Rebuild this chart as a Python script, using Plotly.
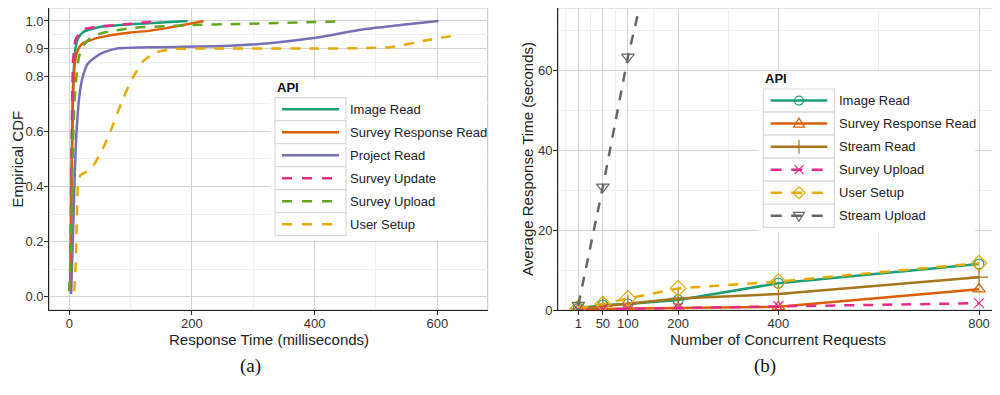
import plotly.graph_objects as go

W, H = 1000, 395
OFF = 8  # the page body adds an 8px margin; reference pixel coords are shifted by it

# ---------------- Panel (a): empirical CDF of response time ----------------
cdf_names = ["Image Read", "Survey Response Read", "Project Read",
             "Survey Update", "Survey Upload", "User Setup"]

image_read_ms = [1, 2, 3, 4, 5, 6, 8, 10, 15, 23, 35, 50, 83, 130, 193]
image_read_cdf = [0.02, 0.1, 0.3, 0.5, 0.65, 0.76, 0.85, 0.9, 0.94, 0.96, 0.97, 0.978, 0.985, 0.992, 1.0]

survey_resp_ms = [1, 2, 3, 4, 5, 6, 8, 10, 15, 20, 34, 60, 100, 132, 160, 219]
survey_resp_cdf = [0.02, 0.08, 0.25, 0.45, 0.6, 0.72, 0.82, 0.86, 0.9, 0.915, 0.93, 0.945, 0.958, 0.965, 0.975, 1.0]

project_read_ms = [3, 5, 7, 9, 11, 13, 16, 20, 25, 30, 40, 55, 78, 150, 262, 330, 398, 480, 540, 602]
project_read_cdf = [0.01, 0.15, 0.3, 0.45, 0.57, 0.64, 0.72, 0.78, 0.82, 0.845, 0.865, 0.885, 0.9, 0.905, 0.91, 0.92, 0.938, 0.97, 0.985, 1.0]

survey_update_ms = [1, 2, 3, 4, 5, 6, 8, 10, 15, 25, 50, 100, 149]
survey_update_cdf = [0.02, 0.15, 0.4, 0.6, 0.75, 0.85, 0.9, 0.93, 0.95, 0.97, 0.98, 0.99, 1.0]

survey_upload_ms = [0, 2, 4, 6, 8, 10, 15, 20, 30, 40, 60, 105, 200, 276, 350, 446]
survey_upload_cdf = [0.02, 0.15, 0.35, 0.55, 0.68, 0.76, 0.86, 0.9, 0.93, 0.946, 0.96, 0.975, 0.985, 0.989, 0.993, 0.999]

user_setup_ms = [8, 10, 12, 14, 18, 25, 34, 51, 67, 88, 105, 121, 143, 170, 250, 400, 524, 570, 622]
user_setup_cdf = [0.02, 0.1, 0.25, 0.4, 0.44, 0.45, 0.46, 0.52, 0.6, 0.72, 0.8, 0.855, 0.887, 0.898, 0.9, 0.9, 0.905, 0.925, 0.945]

cdf_x = [image_read_ms, survey_resp_ms, project_read_ms, survey_update_ms, survey_upload_ms, user_setup_ms]
cdf_y = [image_read_cdf, survey_resp_cdf, project_read_cdf, survey_update_cdf, survey_upload_cdf, user_setup_cdf]
cdf_colors = ["#1B9E77", "#D95F02", "#7570B3", "#E7298A", "#66A61E", "#E6AB02"]
cdf_dashes = ["solid", "solid", "solid", "dash", "dash", "dash"]

a_xticks = [0, 200, 400, 600]
a_xminor = [100, 300, 500]
a_yticks = [0.0, 0.2, 0.4, 0.6, 0.8, 0.9, 1.0]
a_yticklabels = ["0.0", "0.2", "0.4", "0.6", "0.8", "0.9", "1.0"]
a_yminor = [0.1, 0.3, 0.5, 0.7, 0.85, 0.95]

# ---------------- Panel (b): average response time vs concurrency ----------------
conc_names = ["Image Read", "Survey Response Read", "Stream Read",
              "Survey Upload", "User Setup", "Stream Upload"]
concurrency = [1, 50, 100, 200, 400, 800]
image_read_s = [0.4, 1.25, 1.5, 2.5, 6.7, 11.5]
survey_resp_read_s = [0.2, 0.3, 0.4, 0.5, 0.8, 5.2]
stream_read_s = [0.3, 0.9, 1.5, 2.9, 4.0, 8.2]
survey_upload_s = [0.1, 0.2, 0.4, 0.6, 1.0, 1.7]
user_setup_s = [0.5, 1.5, 2.9, 5.4, 7.1, 11.7]
stream_upload_conc = [1, 50, 100, 200]
stream_upload_s = [1.2, 30.8, 63.3, 117]

conc_x = [concurrency, concurrency, concurrency, concurrency, concurrency, stream_upload_conc]
conc_y = [image_read_s, survey_resp_read_s, stream_read_s, survey_upload_s, user_setup_s, stream_upload_s]
conc_colors = ["#1B9E77", "#D95F02", "#A6761D", "#E7298A", "#E6AB02", "#666666"]
conc_dashes = ["solid", "solid", "solid", "dash", "dash", "dash"]
conc_symbols = ["circle-open", "triangle-up-open", "cross-thin-open", "x-thin-open", "diamond-open", "triangle-down-open"]
conc_sizes = [10, 11, 13, 10, 12, 11]

b_xticks = [1, 50, 100, 200, 400, 800]
b_xminor = [-24.5, 25.5, 75, 150, 300, 600]
b_yticks = [0, 20, 40, 60]
b_yminor = [10, 30, 50, 70]

DASH = "10px,9px"
FONT = "Liberation Sans, Arial, sans-serif"


def PX(x):
    return (x - OFF) / W


def PY(y):
    return 1 - (y - OFF) / H


fig = go.Figure()

for name, xs, ys, c, d in zip(cdf_names, cdf_x, cdf_y, cdf_colors, cdf_dashes):
    fig.add_trace(go.Scatter(x=xs, y=ys, mode="lines", name=name, showlegend=False,
                             line=dict(color=c, width=2.5, dash=DASH if d == "dash" else "solid",
                                       shape="spline", smoothing=0.6),
                             xaxis="x", yaxis="y"))

for name, xs, ys, c, d, s, sz in zip(conc_names, conc_x, conc_y, conc_colors, conc_dashes, conc_symbols, conc_sizes):
    fig.add_trace(go.Scatter(x=xs, y=ys, mode="lines+markers", name=name, showlegend=False,
                             line=dict(color=c, width=2.5, dash=DASH if d == "dash" else "solid"),
                             marker=dict(symbol=s, size=sz, color=c, line=dict(width=1.2, color=c)),
                             xaxis="x2", yaxis="y2"))

ydom = [PY(310), PY(8)]
axis_common = dict(showgrid=True, gridcolor="#d4d4d4", gridwidth=1, zeroline=False,
                   showline=True, linecolor="#222222", linewidth=1.3,
                   ticks="outside", ticklen=4, tickwidth=1, tickcolor="#333333",
                   tickfont=dict(family=FONT, size=13, color="#333333"),
                   automargin=False, fixedrange=True)


def minor(vals):
    return dict(tickmode="array", tickvals=vals, showgrid=True, gridcolor="#f0f0f0", gridwidth=0.8, ticks="")


fig.update_layout(
    width=W, height=H, margin=dict(l=0, r=0, t=0, b=0),
    paper_bgcolor="white", plot_bgcolor="white", template="none", showlegend=False,
    xaxis=dict(domain=[PX(49.3), PX(487.7)], range=[-32.6, 682.2], tickmode="array", tickvals=a_xticks,
               minor=minor(a_xminor), anchor="y", ticklabelstandoff=-3, **axis_common),
    yaxis=dict(domain=ydom, range=[-0.048, 1.047], tickmode="array", tickvals=a_yticks,
               ticktext=a_yticklabels, minor=minor(a_yminor), anchor="x", ticklabelstandoff=-2, **axis_common),
    xaxis2=dict(domain=[PX(558.3), PX(997)], range=[-38.85, 835.9], tickmode="array", tickvals=b_xticks,
                minor=minor(b_xminor), anchor="y2", ticklabelstandoff=-3, **axis_common),
    yaxis2=dict(domain=ydom, range=[0, 75.5], tickmode="array", tickvals=b_yticks,
                minor=minor(b_yminor), anchor="x2", ticklabelstandoff=-2, **axis_common),
)

shapes = []
annotations = []

# panel borders
for xr, yr in (("x domain", "y domain"), ("x2 domain", "y2 domain")):
    shapes.append(dict(type="rect", xref=xr, yref=yr, x0=0, x1=1, y0=0, y1=1,
                       line=dict(color="#c4c4c4", width=1), layer="below"))


def legend(title_xy, bg, box_x, top, rowh, line_x, text_x, names, colors, dashes, markers, dash_pat):
    shapes.append(dict(type="rect", xref="paper", yref="paper", x0=PX(bg[0]), x1=PX(bg[1]),
                       y0=PY(bg[3]), y1=PY(bg[2]), fillcolor="white", line=dict(width=0), layer="above"))
    annotations.append(dict(text="<b>API</b>", xref="paper", yref="paper", x=PX(title_xy[0]), y=PY(title_xy[1]),
                            xanchor="left", yanchor="middle", showarrow=False,
                            font=dict(family=FONT, size=13, color="#111111")))
    for i, (n, c, d) in enumerate(zip(names, colors, dashes)):
        t = top + i * rowh
        cy = t + rowh / 2
        shapes.append(dict(type="rect", xref="paper", yref="paper", x0=PX(box_x[0]), x1=PX(box_x[1]),
                           y0=PY(t + rowh), y1=PY(t), fillcolor="white",
                           line=dict(color="#d9d9d9", width=1.2), layer="above"))
        shapes.append(dict(type="line", xref="paper", yref="paper", x0=PX(line_x[0]), x1=PX(line_x[1]),
                           y0=PY(cy), y1=PY(cy), layer="above",
                           line=dict(color=c, width=2.5, dash=dash_pat if d == "dash" else "solid")))
        if markers is not None:
            m = markers[i]
            mx = PX((line_x[0] + line_x[1]) / 2)
            base = dict(xref="paper", yref="paper", xsizemode="pixel", ysizemode="pixel",
                        xanchor=mx, yanchor=PY(cy), layer="above",
                        line=dict(color=c, width=1.2), fillcolor="rgba(0,0,0,0)")
            if m == "circle-open":
                shapes.append(dict(type="circle", x0=-4.5, x1=4.5, y0=-4.5, y1=4.5, **base))
            else:
                paths = {
                    "triangle-up-open": "M-5.5,-3.5 L5.5,-3.5 L0,5.5 Z",
                    "cross-thin-open": "M0,-7 L0,7 M-7,0 L7,0",
                    "x-thin-open": "M-4.5,-4.5 L4.5,4.5 M-4.5,4.5 L4.5,-4.5",
                    "diamond-open": "M-6,0 L0,6 L6,0 L0,-6 Z",
                    "triangle-down-open": "M-5.5,3.5 L5.5,3.5 L0,-5.5 Z",
                }
                shapes.append(dict(type="path", path=paths[m], **base))
        annotations.append(dict(text=n, xref="paper", yref="paper", x=PX(text_x), y=PY(cy),
                                xanchor="left", yanchor="middle", showarrow=False,
                                font=dict(family=FONT, size=13, color="#222222")))


legend((275, 88), (270, 486, 79, 240), (275, 346), 97.7, 23.0, (282, 339), 348,
       cdf_names, cdf_colors, cdf_dashes, None, "10px,10px")
legend((763, 79), (758, 975, 71, 232), (763.3, 834.3), 89, 23.05, (770.7, 827.3), 837,
       conc_names, conc_colors, conc_dashes, conc_symbols, "11px,9.5px")

# axis titles and captions
title_font = dict(family=FONT, size=15, color="#222222")
cap_font = dict(family="Liberation Serif, DejaVu Serif, serif", size=19, color="#111111")
annotations += [
    dict(text="Response Time (milliseconds)", xref="paper", yref="paper", x=PX(268.5), y=PY(339),
         xanchor="center", yanchor="middle", showarrow=False, font=title_font),
    dict(text="Empirical CDF", xref="paper", yref="paper", x=PX(16.5), y=PY(159), textangle=-90,
         xanchor="center", yanchor="middle", showarrow=False, font=title_font),
    dict(text="Number of Concurrent Requests", xref="paper", yref="paper", x=PX(777.5), y=PY(339),
         xanchor="center", yanchor="middle", showarrow=False, font=title_font),
    dict(text="Average Response Time (seconds)", xref="paper", yref="paper", x=PX(527), y=PY(159), textangle=-90,
         xanchor="center", yanchor="middle", showarrow=False, font=title_font),
    dict(text="(a)", xref="paper", yref="paper", x=PX(250), y=PY(366),
         xanchor="center", yanchor="middle", showarrow=False, font=cap_font),
    dict(text="(b)", xref="paper", yref="paper", x=PX(765), y=PY(366),
         xanchor="center", yanchor="middle", showarrow=False, font=cap_font),
]

fig.update_layout(shapes=shapes, annotations=annotations)
fig.write_html("out.html")
